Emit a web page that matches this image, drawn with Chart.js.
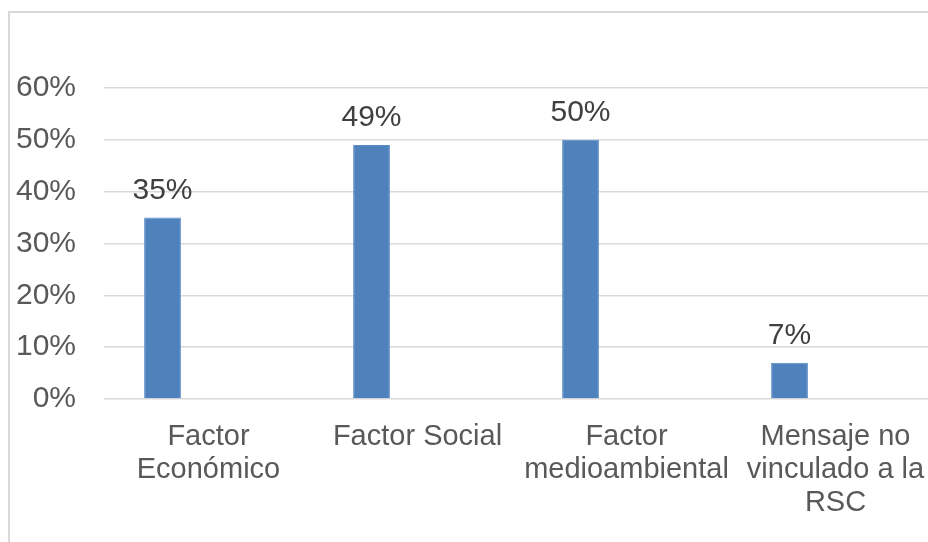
<!DOCTYPE html>
<html>
<head>
<meta charset="utf-8">
<script src="https://cdn.jsdelivr.net/npm/chart.js@4"></script>
<style>
  html, body { margin: 0; padding: 0; background: #fff; overflow: hidden; width: 928px; height: 542px; }
  #frame { position: absolute; left: 8px; top: 11px; width: 1000px; height: 600px;
           border-left: 2px solid #d9d9d9; border-top: 2px solid #d9d9d9; }
  #wrap { position: absolute; left: 0; top: 0; width: 960px; height: 542px; }
</style>
</head>
<body>
<div id="frame"></div>
<div id="wrap"><canvas id="chart"></canvas></div>
<script>
// data
const categories = [
  ["Factor", "Económico"],
  "Factor Social",
  ["Factor", "medioambiental"],
  ["Mensaje no", "vinculado a la", "RSC"]
];
const shareValues = [0.35, 0.49, 0.50, 0.07];
const emptySeries = [null, null, null, null]; // second (empty) series keeps bars left of centre
const yTicks = [0, 0.1, 0.2, 0.3, 0.4, 0.5, 0.6];

const FONT = "'Liberation Sans', Arial, sans-serif";

// labels above each bar
const barLabels = {
  id: "barLabels",
  afterDatasetsDraw(chart){
    const ctx = chart.ctx;
    const meta = chart.getDatasetMeta(0);
    ctx.save();
    ctx.font = "30px " + FONT;
    ctx.fillStyle = "#404040";
    ctx.textAlign = "center";
    ctx.textBaseline = "alphabetic";
    meta.data.forEach((bar, i) => {
      const v = shareValues[i];
      if(v == null) return;
      ctx.fillText(Math.round(v * 100) + "%", bar.x, bar.y - 19);
    });
    ctx.restore();
  }
};

new Chart(document.getElementById("chart"), {
  type: "bar",
  data: {
    labels: categories,
    datasets: [
      { label: "Serie 1", data: shareValues, backgroundColor: "#4F81BD",
        borderColor: "#5b8cc6", borderWidth: 1,
        categoryPercentage: 0.88, barPercentage: 0.40 },
      { label: "Serie 2", data: emptySeries, backgroundColor: "#C0504D",
        categoryPercentage: 0.88, barPercentage: 0.40 }
    ]
  },
  options: {
    responsive: true,
    maintainAspectRatio: false,
    animation: false,
    layout: { padding: { left: 0, right: 20, top: 88, bottom: 0 } },
    plugins: { legend: { display: false }, tooltip: { enabled: false } },
    scales: {
      x: {
        grid: { display: false, drawTicks: false },
        border: { display: false },
        ticks: { color: "#595959", font: { family: FONT, size: 29, lineHeight: 1.15 },
                 padding: 21, maxRotation: 0, autoSkip: false },
        afterFit(scale){ scale.height = 143; }
      },
      y: {
        min: 0, max: 0.6,
        afterBuildTicks(scale){ scale.ticks = yTicks.map(v => ({ value: v })); },
        grid: { color: "#d9d9d9", lineWidth: 1.5, drawTicks: false },
        border: { display: false },
        ticks: { color: "#595959", font: { family: FONT, size: 30 }, padding: 28,
                 callback: v => Math.round(v * 100) + "%" },
        afterFit(scale){ scale.width = 104; }
      }
    }
  },
  plugins: [barLabels]
});
</script>
</body>
</html>
